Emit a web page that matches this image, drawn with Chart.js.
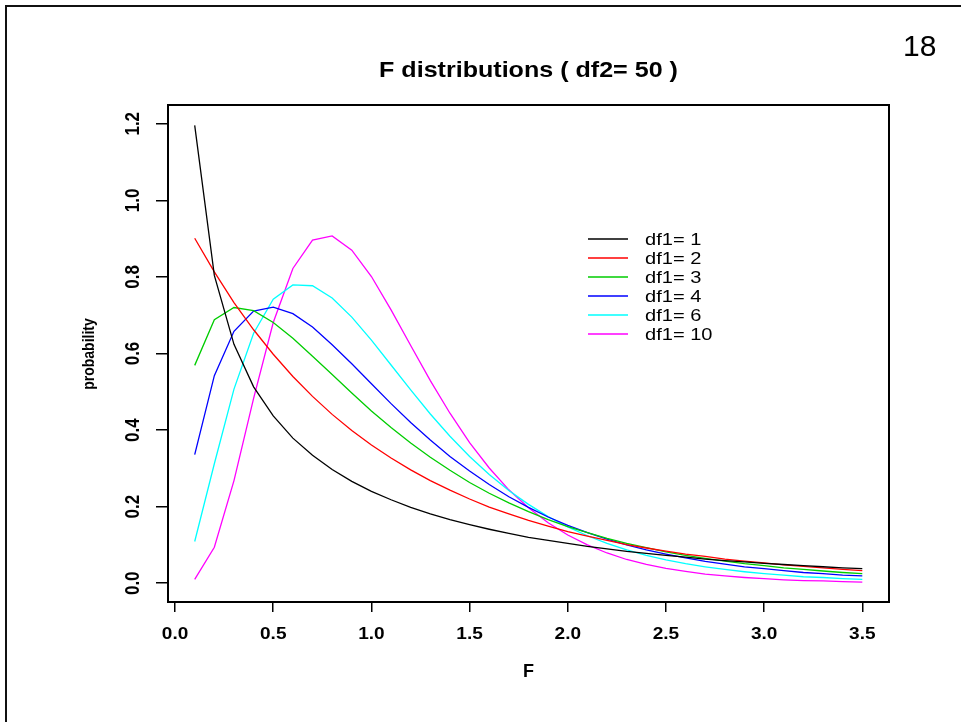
<!DOCTYPE html>
<html>
<head>
<meta charset="utf-8">
<script src="https://cdn.jsdelivr.net/npm/chart.js@4.4.1/dist/chart.umd.min.js"></script>
<style>
    html, body { margin: 0; padding: 0; background: #fff; }
    canvas { display: block; }
</style>
</head>
<body>
<canvas id="fChart" width="961" height="722"></canvas>
<script>
// F values where the densities were evaluated
var fValues = [0.1, 0.2, 0.3, 0.4, 0.5, 0.6, 0.7, 0.8, 0.9, 1.0, 1.1, 1.2, 1.3, 1.4, 1.5, 1.6, 1.7, 1.8, 1.9, 2.0,
    2.1, 2.2, 2.3, 2.4, 2.5, 2.6, 2.7, 2.8, 2.9, 3.0, 3.1, 3.2, 3.3, 3.4, 3.5];

// density, one array per df1
var df1_1 = [1.196, 0.804, 0.624, 0.513, 0.437, 0.379, 0.334, 0.297, 0.266, 0.240, 0.218, 0.198, 0.181, 0.166, 0.153, 0.141, 0.130, 0.120, 0.112, 0.104,
    0.096, 0.090, 0.083, 0.078, 0.073, 0.068, 0.063, 0.059, 0.056, 0.052, 0.049, 0.046, 0.043, 0.040, 0.038];
var df1_2 = [0.901, 0.813, 0.733, 0.662, 0.598, 0.540, 0.488, 0.441, 0.399, 0.361, 0.327, 0.296, 0.268, 0.243, 0.220, 0.199, 0.181, 0.164, 0.149, 0.135,
    0.123, 0.112, 0.101, 0.092, 0.084, 0.076, 0.070, 0.063, 0.058, 0.053, 0.048, 0.044, 0.040, 0.036, 0.033];
var df1_3 = [0.569, 0.688, 0.720, 0.712, 0.681, 0.640, 0.593, 0.545, 0.497, 0.450, 0.407, 0.366, 0.329, 0.295, 0.263, 0.235, 0.210, 0.187, 0.166, 0.148,
    0.132, 0.117, 0.104, 0.093, 0.082, 0.073, 0.065, 0.058, 0.051, 0.046, 0.040, 0.036, 0.032, 0.028, 0.025];
var df1_4 = [0.336, 0.542, 0.658, 0.711, 0.721, 0.704, 0.669, 0.623, 0.573, 0.521, 0.469, 0.420, 0.374, 0.331, 0.293, 0.258, 0.226, 0.198, 0.173, 0.151,
    0.132, 0.115, 0.100, 0.087, 0.076, 0.066, 0.057, 0.050, 0.043, 0.038, 0.033, 0.028, 0.025, 0.021, 0.019];
var df1_6 = [0.109, 0.312, 0.507, 0.653, 0.742, 0.779, 0.777, 0.745, 0.695, 0.635, 0.570, 0.505, 0.442, 0.384, 0.331, 0.284, 0.242, 0.206, 0.174, 0.147,
    0.124, 0.104, 0.087, 0.073, 0.061, 0.051, 0.043, 0.036, 0.030, 0.025, 0.021, 0.017, 0.015, 0.012, 0.010];
var df1_10 = [0.010, 0.094, 0.268, 0.483, 0.681, 0.822, 0.896, 0.907, 0.870, 0.801, 0.714, 0.621, 0.529, 0.444, 0.367, 0.301, 0.244, 0.197, 0.158, 0.126,
    0.100, 0.079, 0.062, 0.049, 0.039, 0.031, 0.024, 0.019, 0.015, 0.012, 0.009, 0.007, 0.006, 0.004, 0.003];

var seriesLabels = ["df1= 1", "df1= 2", "df1= 3", "df1= 4", "df1= 6", "df1= 10"];
var seriesData = [df1_1, df1_2, df1_3, df1_4, df1_6, df1_10];
var seriesColors = ["#000000", "#ff0000", "#00cd00", "#0000ff", "#00ffff", "#ff00ff"];

var xTicks = [0.0, 0.5, 1.0, 1.5, 2.0, 2.5, 3.0, 3.5];
var yTicks = [0.0, 0.2, 0.4, 0.6, 0.8, 1.0, 1.2];

var fontFamily = "'Liberation Sans', Arial, sans-serif";

// text with a little horizontal stretch, like the widened R picture
function stretchText(ctx, text, x, y, rot, sx, sy) {
    ctx.save();
    ctx.translate(x, y);
    if (rot) ctx.rotate(rot);
    ctx.scale(sx, sy);
    ctx.fillText(text, 0, 0);
    ctx.restore();
}

// slide frame, page number, title, axis titles, tick labels, box and legend
var decorPlugin = {
    id: "decor",
    afterDraw: function (chart) {
        var ctx = chart.ctx;
        var area = chart.chartArea;
        var xScale = chart.scales.x;
        var yScale = chart.scales.y;
        var midX = (area.left + area.right) / 2;
        ctx.save();

        // slide frame (top and left edge)
        ctx.strokeStyle = "#111";
        ctx.lineWidth = 2;
        ctx.beginPath();
        ctx.moveTo(6, 722);
        ctx.lineTo(6, 6);
        ctx.lineTo(961, 6);
        ctx.stroke();

        // plot box
        ctx.strokeStyle = "#000";
        ctx.lineWidth = 2;
        ctx.strokeRect(area.left, area.top, area.right - area.left, area.bottom - area.top);

        ctx.fillStyle = "#000";

        // page number
        ctx.font = "30px " + fontFamily;
        ctx.textAlign = "left";
        ctx.textBaseline = "alphabetic";
        ctx.fillText("18", 903, 56);

        // title
        ctx.font = "bold 22px " + fontFamily;
        ctx.textAlign = "center";
        stretchText(ctx, "F distributions ( df2= 50 )", midX, 77, 0, 1.14, 1);

        // x axis title
        ctx.font = "bold 18px " + fontFamily;
        ctx.fillText("F", midX, 677);

        // x tick labels
        ctx.font = "bold 17px " + fontFamily;
        ctx.textBaseline = "middle";
        xTicks.forEach(function (v) {
            stretchText(ctx, v.toFixed(1), xScale.getPixelForValue(v), 634, 0, 1.12, 1);
        });

        // rotated y tick labels
        yTicks.forEach(function (v) {
            stretchText(ctx, v.toFixed(1), 134, yScale.getPixelForValue(v), -Math.PI / 2, 1, 1.15);
        });

        // y axis title
        ctx.font = "bold 14px " + fontFamily;
        stretchText(ctx, "probability", 89, 354, -Math.PI / 2, 1, 1.2);

        // legend
        ctx.font = "17px " + fontFamily;
        ctx.textAlign = "left";
        ctx.lineWidth = 1.3;
        seriesLabels.forEach(function (label, i) {
            var y = 239 + i * 19;
            ctx.strokeStyle = seriesColors[i];
            ctx.beginPath();
            ctx.moveTo(588, y);
            ctx.lineTo(628, y);
            ctx.stroke();
            stretchText(ctx, label, 645, y + 1, 0, 1.18, 1);
        });

        ctx.restore();
    },
};

var config_line = {
    type: "line",
    data: {
        datasets: seriesData.map(function (arr, i) {
            return {
                label: seriesLabels[i],
                data: fValues.map(function (x, j) {
                    return { x: x, y: arr[j] };
                }),
                borderColor: seriesColors[i],
                backgroundColor: seriesColors[i],
                borderWidth: 1.3,
                pointRadius: 0,
                tension: 0,
                fill: false,
            };
        }),
    },
    options: {
        responsive: false,
        animation: false,
        layout: {
            padding: { left: 0, top: 105, right: 72, bottom: 0 },
        },
        scales: {
            x: {
                type: "linear",
                min: -0.036,
                max: 3.636,
                afterBuildTicks: function (scale) {
                    scale.ticks = xTicks.map(function (v) { return { value: v }; });
                },
                afterFit: function (scale) {
                    scale.height = 120;
                },
                border: { display: false },
                grid: {
                    drawOnChartArea: false,
                    drawTicks: true,
                    tickLength: 10,
                    color: "#000",
                    lineWidth: 1.5,
                },
                ticks: { display: false },
            },
            y: {
                type: "linear",
                min: -0.049,
                max: 1.249,
                afterBuildTicks: function (scale) {
                    scale.ticks = yTicks.map(function (v) { return { value: v }; });
                },
                afterFit: function (scale) {
                    scale.width = 168;
                },
                border: { display: false },
                grid: {
                    drawOnChartArea: false,
                    drawTicks: true,
                    tickLength: 12,
                    color: "#000",
                    lineWidth: 1.5,
                },
                ticks: { display: false },
            },
        },
        plugins: {
            legend: { display: false },
            tooltip: { enabled: false },
        },
    },
    plugins: [decorPlugin],
};

var fChart = new Chart("fChart", config_line);
</script>
</body>
</html>
